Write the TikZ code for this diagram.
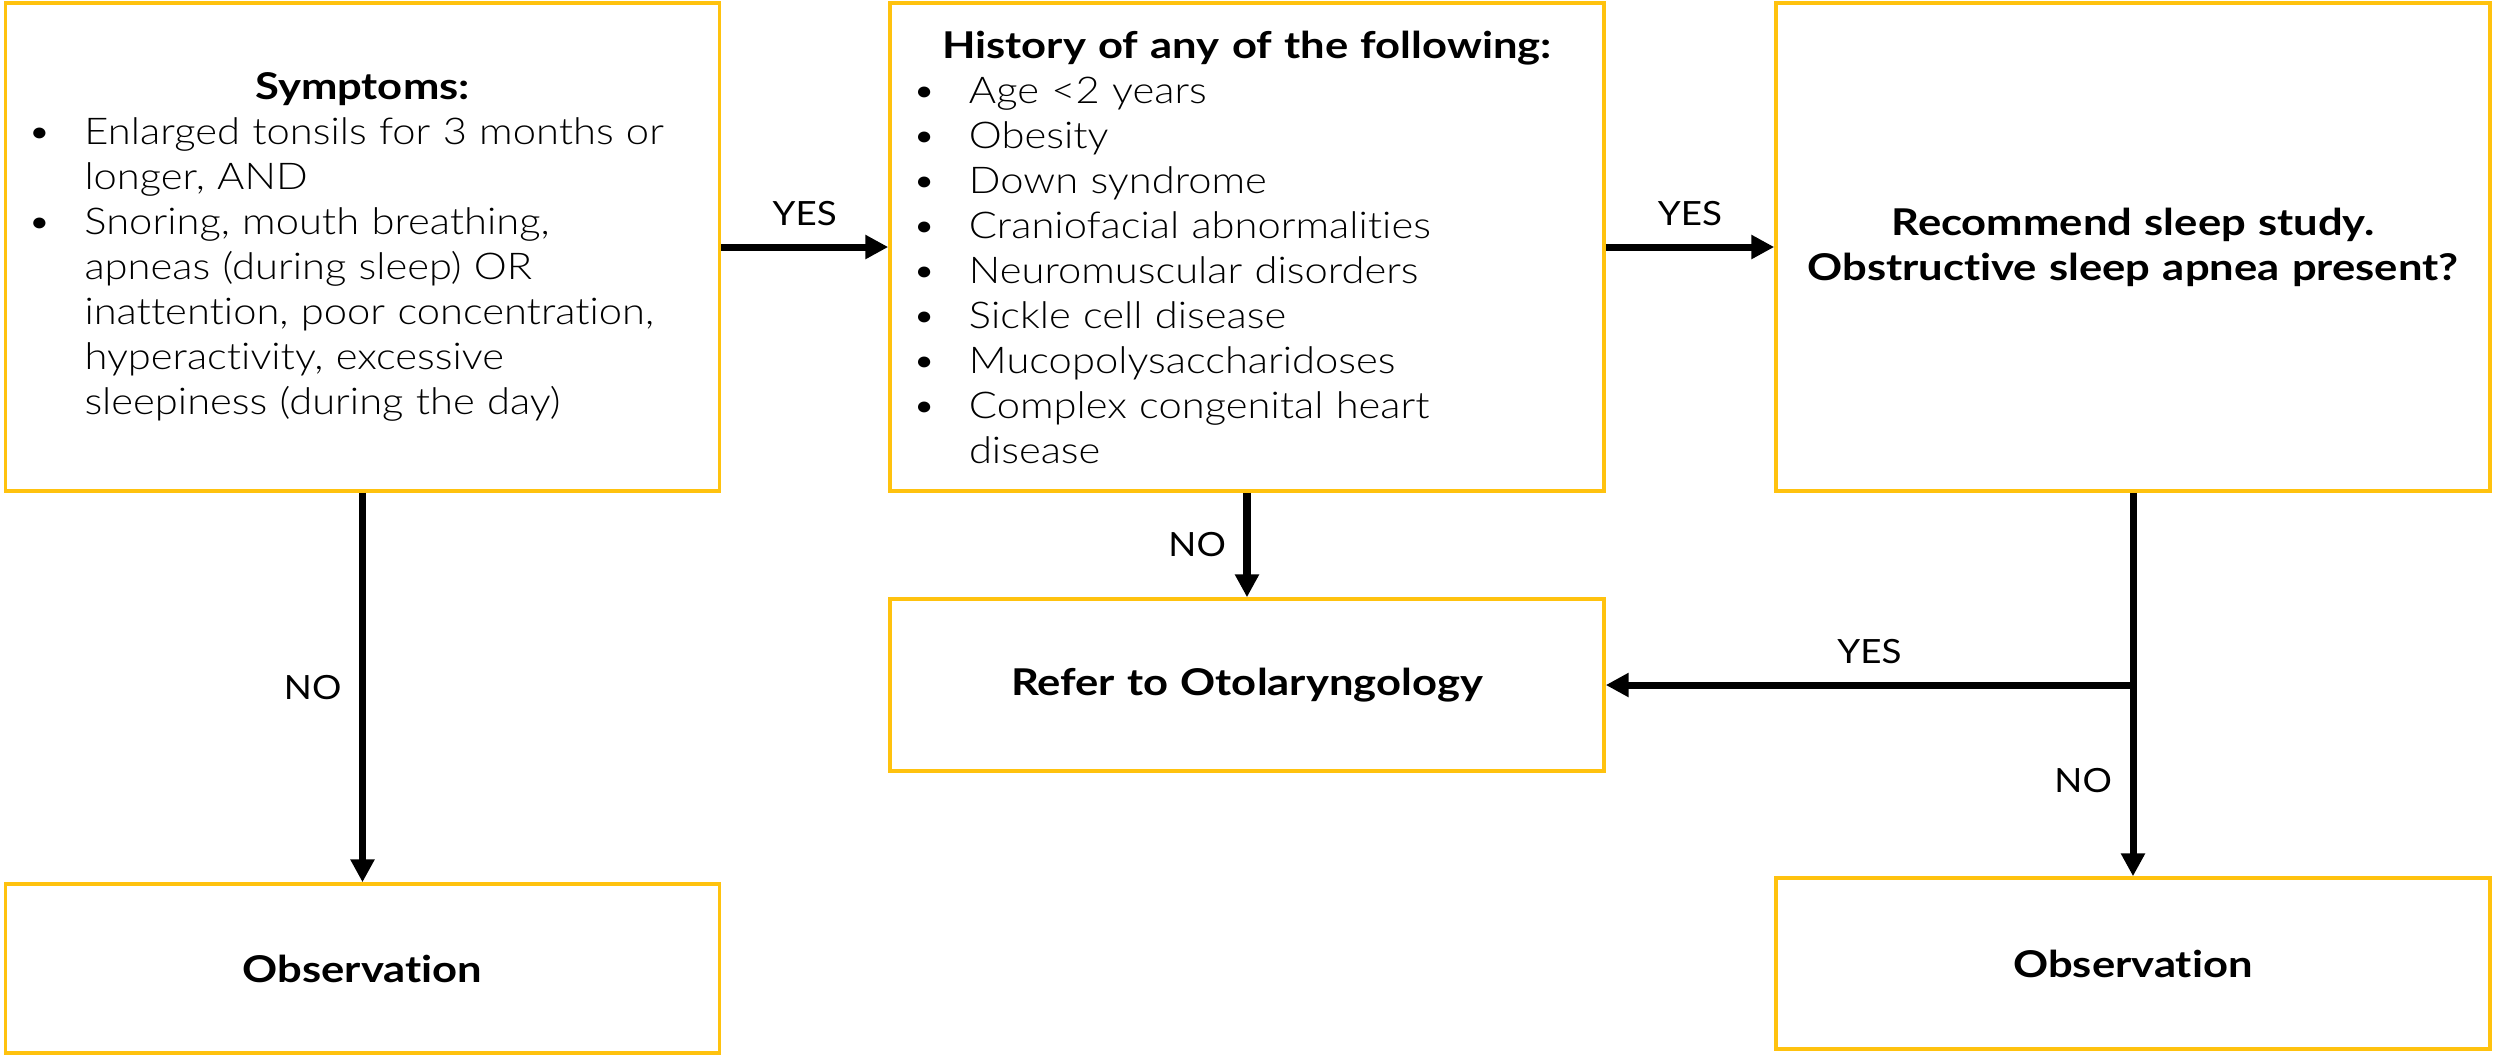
\documentclass[tikz,border=0pt]{standalone}
\usepackage{fontspec}
\setmainfont{Lato}[UprightFont={* Light},UprightFeatures={FakeStretch=1.13},
  BoldFont={* Bold},BoldFeatures={FakeStretch=1.18},Ligatures=NoCommon]
\newfontfamily\lblfont{Lato}[FakeStretch=1.1]
\usetikzlibrary{arrows.meta,positioning}

\definecolor{boxgold}{HTML}{FFC20E}

% bullet and hanging indent for the lists
\newcommand{\bitem}{\makebox[0.57cm][l]{\textbullet}}
\newcommand{\bcont}{\hspace*{0.57cm}}

\tikzset{
  box/.style={draw=boxgold, line width=1pt, text width=6.70cm, inner xsep=0.22cm,
    inner ysep=0pt, align=left, font=\fontsize{10.5}{12.8}\selectfont},
  mid/.style={box, align=center, font=\fontsize{10.5}{12.8}\selectfont\bfseries},
  arr/.style={line width=2pt, -{Triangle[length=6.5pt,width=6.5pt]}},
  lbl/.style={font=\lblfont\fontsize{9.5}{11}\selectfont, inner sep=0pt},
}

\begin{document}
\begin{tikzpicture}
  \useasboundingbox (0,0) rectangle (24.93,-10.55);

  % top row
  \node[box, minimum height=4.88cm] (sym) at (3.625,-2.47) {%
    \makebox[6.70cm]{\textbf{Symptoms:}}\\
    \bitem Enlarged tonsils for 3 months or\\
    \bcont longer, AND\\
    \bitem Snoring, mouth breathing,\\
    \bcont apneas (during sleep) OR\\
    \bcont inattention, poor concentration,\\
    \bcont hyperactivity, excessive\\
    \bcont sleepiness (during the day)};
  \node[box, minimum height=4.88cm] (hist) at (12.47,-2.47) {%
    \makebox[6.70cm]{\textbf{History of any of the following:}}\\
    \bitem Age <2 years\\
    \bitem Obesity\\
    \bitem Down syndrome\\
    \bitem Craniofacial abnormalities\\
    \bitem Neuromuscular disorders\\
    \bitem Sickle cell disease\\
    \bitem Mucopolysaccharidoses\\
    \bitem Complex congenital heart\\
    \bcont disease};
  \node[mid, minimum height=4.88cm] (sleep) at (21.33,-2.47)
    {Recommend sleep study.\\ Obstructive sleep apnea present?};

  % lower boxes
  \node[mid, minimum height=1.72cm] (refer) at (12.47,-6.85) {Refer to Otolaryngology};
  \node[mid, minimum height=1.69cm] (obs1) at (3.625,-9.685) {Observation};
  \node[mid, minimum height=1.71cm] (obs2) at (21.33,-9.635) {Observation};

  % connectors
  \draw[arr] (sym) -- node[lbl, above=5pt] {YES} (hist);
  \draw[arr] (hist) -- node[lbl, above=5pt] {YES} (sleep);
  \draw[arr] (sym) -- node[lbl, left=5pt] {NO} (obs1);
  \draw[arr] (hist) -- node[lbl, left=5pt] {NO} (refer);

  \coordinate (split) at (sleep.south |- refer.east);
  \draw[line width=2pt] (sleep.south) -- (split);
  \draw[arr] (split) -- node[lbl, above=5pt] {YES} (refer);
  \draw[arr] (split) -- node[lbl, left=5pt] {NO} (obs2);
\end{tikzpicture}
\end{document}
